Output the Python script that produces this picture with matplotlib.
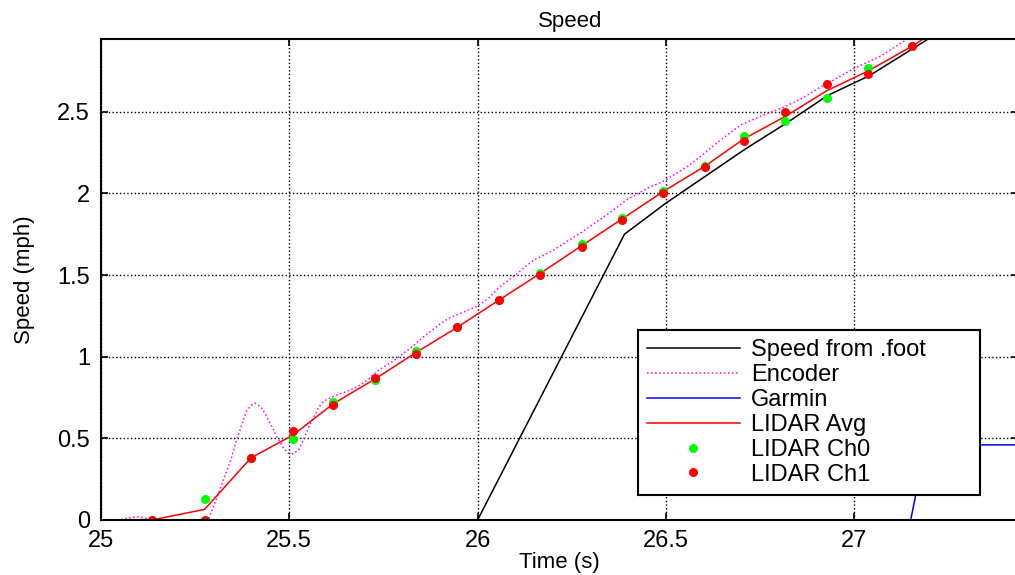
import numpy as np
import matplotlib.pyplot as plt

plt.rcParams['font.family'] = ['Liberation Sans', 'DejaVu Sans']

# speed from .foot file
foot_t = [25.0, 26.0, 26.39, 26.5, 26.71, 26.82, 26.93, 27.04, 27.2, 27.35]
foot_v = [0, 0, 1.75, 1.94, 2.27, 2.43, 2.60, 2.72, 2.95, 3.15]

# encoder
enc_t = [25.0, 25.05, 25.08, 25.10, 25.12, 25.15, 25.2, 25.285, 25.305, 25.325,
         25.345, 25.36, 25.375, 25.387, 25.40, 25.41, 25.425, 25.436, 25.45, 25.467,
         25.485, 25.497, 25.51, 25.525, 25.537, 25.55, 25.565, 25.578, 25.59, 25.61,
         25.626, 25.65, 25.68, 25.71, 25.732, 25.76, 25.78, 25.82, 25.856, 25.9,
         25.927, 25.96, 26.0, 26.03, 26.06, 26.1, 26.148, 26.2, 26.24, 26.272,
         26.3, 26.35, 26.396, 26.45, 26.49, 26.555, 26.6, 26.636, 26.67, 26.7,
         26.75, 26.815, 26.86, 26.91, 26.95, 27.0, 27.07, 27.145, 27.2]
enc_v = [0, 0.0, 0.015, 0.02, 0.01, 0, 0, 0, 0.12, 0.245,
         0.37, 0.49, 0.59, 0.67, 0.705, 0.715, 0.69, 0.65, 0.59, 0.51,
         0.44, 0.41, 0.405, 0.43, 0.49, 0.56, 0.63, 0.69, 0.725, 0.75,
         0.765, 0.785, 0.815, 0.86, 0.91, 0.95, 0.98, 1.05, 1.12, 1.2,
         1.24, 1.27, 1.31, 1.36, 1.43, 1.5, 1.59, 1.65, 1.71, 1.755,
         1.8, 1.88, 1.96, 2.03, 2.07, 2.16, 2.24, 2.31, 2.37, 2.42,
         2.47, 2.53, 2.58, 2.65, 2.7, 2.765, 2.84, 2.95, 3.02]

# garmin
gar_t = [25.0, 27.15, 27.19, 27.45]
gar_v = [0, 0, 0.46, 0.46]

# lidar
avg_t = [24.915, 25.135, 25.275, 25.398, 25.51, 25.617, 25.728, 25.837, 25.946, 26.058,
         26.165, 26.277, 26.384, 26.493, 26.604, 26.708, 26.817, 26.927, 27.036, 27.153, 27.26]
avg_v = [0, 0, 0.065, 0.38, 0.52, 0.712, 0.864, 1.026, 1.18, 1.348,
         1.508, 1.68, 1.844, 2.011, 2.167, 2.335, 2.471, 2.628, 2.748, 2.90, 3.06]
ch_t = [25.135, 25.275, 25.398, 25.51, 25.617, 25.728, 25.837, 25.946, 26.058, 26.165,
        26.277, 26.384, 26.493, 26.604, 26.708, 26.817, 26.927, 27.036, 27.153]
ch0_v = [0, 0.13, 0.38, 0.494, 0.72, 0.86, 1.037, 1.18, 1.35, 1.515,
         1.69, 1.85, 2.017, 2.17, 2.35, 2.445, 2.586, 2.766, 2.90]
ch1_v = [0, 0, 0.38, 0.545, 0.704, 0.868, 1.015, 1.18, 1.345, 1.50,
         1.67, 1.837, 2.005, 2.164, 2.32, 2.497, 2.67, 2.73, 2.90]

xticks = [25, 25.5, 26, 26.5, 27]
xlabels = ['25', '25.5', '26', '26.5', '27']
yticks = [0, 0.5, 1, 1.5, 2, 2.5]
ylabels = ['0', '0.5', '1', '1.5', '2', '2.5']

fig = plt.figure(figsize=(10.15, 5.75), dpi=100)
# right spine sits just past the image edge
ax = fig.add_axes([101/1015, 1-520/575, (1018-101)/1015, (520-39)/575])

ax.plot(foot_t, foot_v, color='black', lw=1.1, label='Speed from .foot')
ax.plot(enc_t, enc_v, color=(1, 0, 1), lw=1.1, ls=':', label='Encoder')
ax.plot(gar_t, gar_v, color='blue', lw=1.1, label='Garmin')
ax.plot(avg_t, avg_v, color='red', lw=1.1, label='LIDAR Avg')
ax.plot(ch_t, ch0_v, 'o', color=(0, 1, 0), ms=6.5, mec='none', label='LIDAR Ch0')
ax.plot(ch_t, ch1_v, 'o', color='red', ms=6.5, mec='none', label='LIDAR Ch1')

ax.set_xlim(25, 25 + 917/376.6)
ax.set_ylim(0, 2.945)
ax.set_xticks(xticks)
ax.set_xticklabels(xlabels)
ax.set_yticks(yticks)
ax.set_yticklabels(ylabels)
ax.tick_params(direction='in', top=True, right=True, labelsize=17, length=5, width=1.2)
ax.tick_params(axis='x', pad=7)
ax.tick_params(axis='y', pad=8)
ax.grid(True, color='black', ls=':', lw=1.0)
for s in ax.spines.values():
    s.set_linewidth(1.5)

ax.set_title('Speed', fontsize=16, pad=9, x=(570-101)/917)
ax.set_xlabel('Time (s)', fontsize=16, labelpad=0)
ax.set_ylabel('Speed (mph)', fontsize=16, labelpad=16)

leg = ax.legend(loc='upper left',
                bbox_to_anchor=(638/1015, 1-490/575, 342/1015, 160/575),
                bbox_transform=fig.transFigure, borderaxespad=0, fontsize=17,
                mode='expand', fancybox=False, framealpha=1, edgecolor='black',
                handlelength=3.9, handletextpad=0.5, labelspacing=0.12,
                borderpad=0.4, numpoints=1)
leg.get_frame().set_linewidth(1.5)

fig.savefig('out.png', dpi=100)
